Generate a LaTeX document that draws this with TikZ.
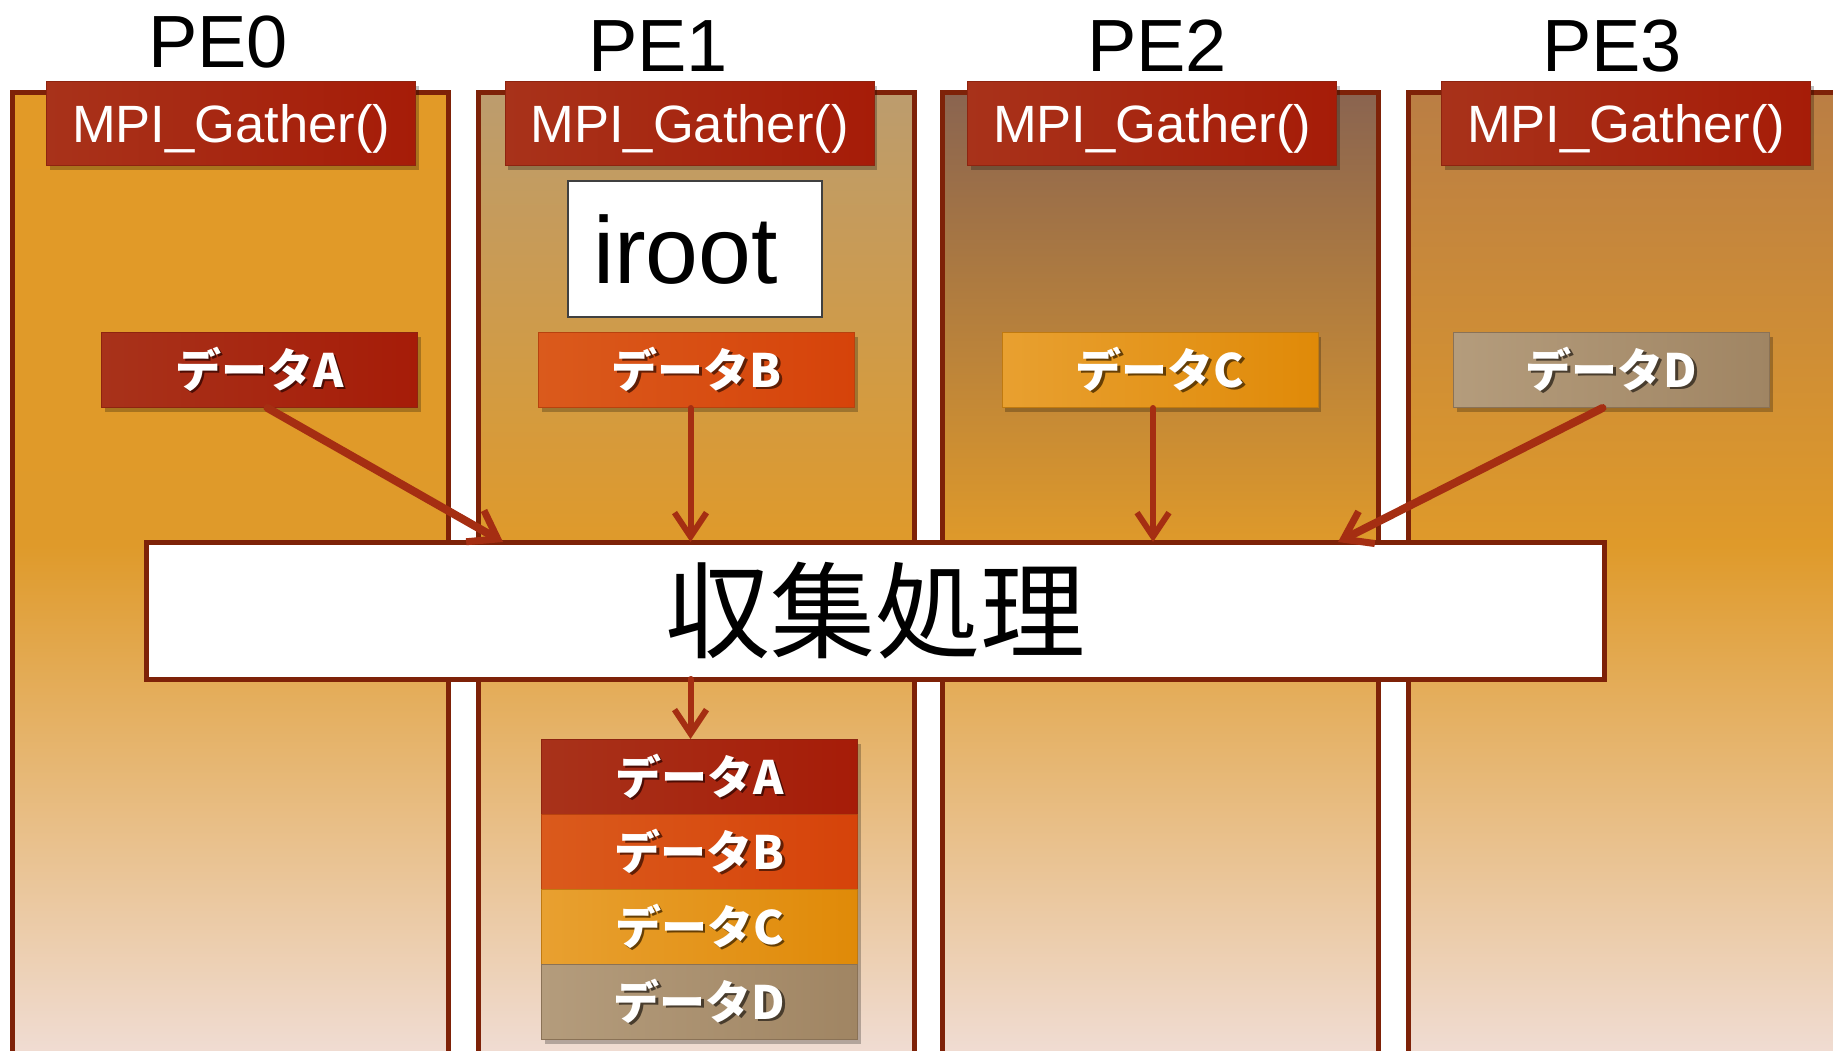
\documentclass[tikz,border=0pt]{standalone}
\usepackage{fontspec}
\setmainfont{Liberation Sans}
\newfontfamily\jp{Noto Sans CJK JP}
\usetikzlibrary{arrows.meta,shadows,calc}
\definecolor{bord}{HTML}{7E2208}
\definecolor{arrc}{HTML}{A52E12}
\definecolor{midor}{HTML}{DF9A2A}
\definecolor{botpk}{HTML}{F0DDD5}
\definecolor{tzero}{HTML}{E29A27}
\definecolor{tone}{HTML}{BC9C6E}
\definecolor{ttwo}{HTML}{8A6450}
\definecolor{tthree}{HTML}{BA7E44}
\definecolor{redL}{HTML}{A8321A}
\definecolor{redM}{HTML}{B92610}
\definecolor{redR}{HTML}{A61C08}
\definecolor{redB}{HTML}{8E2410}
\definecolor{orL}{HTML}{DA5A1C}
\definecolor{orM}{HTML}{EA520F}
\definecolor{orR}{HTML}{D6430A}
\definecolor{orB}{HTML}{B8420E}
\definecolor{amL}{HTML}{E8A030}
\definecolor{amM}{HTML}{F4A010}
\definecolor{amR}{HTML}{E08A08}
\definecolor{amB}{HTML}{C07A10}
\definecolor{tnL}{HTML}{B49C7C}
\definecolor{tnM}{HTML}{B09570}
\definecolor{tnR}{HTML}{A08563}
\definecolor{tnB}{HTML}{8A7256}
\definecolor{irb}{HTML}{404040}
\newcommand\shtxt[2]{\makebox[0pt][l]{\hspace{2.5pt}\raisebox{-2.5pt}{\textcolor{#1}{#2}}}#2}
\tikzset{
  pelabel/.style={font=\fontsize{74}{80}\selectfont, text=black, inner sep=0pt},
  shad/.style={drop shadow={shadow xshift=3pt, shadow yshift=-4pt, opacity=0.25, fill=black}},
  mpibox/.style={shad, minimum width=369pt, minimum height=84pt, inner sep=0pt, text=white,
    font=\fontsize{52.5}{60}\selectfont, text height=37.6pt, text depth=0pt,
    left color=redL, middle color=redM, right color=redR, draw=redB, line width=1pt},
  databox/.style={shad, minimum width=316pt, minimum height=75pt, inner sep=0pt, text=white,
    font=\jp\bfseries\fontsize{46}{50}\selectfont, text height=34pt, text depth=0pt, line width=1pt},
  dataA/.style={databox, left color=redL, middle color=redM, right color=redR, draw=redB},
  dataB/.style={databox, left color=orL, middle color=orM, right color=orR, draw=orB},
  dataC/.style={databox, left color=amL, middle color=amM, right color=amR, draw=amB},
  dataD/.style={databox, left color=tnL, middle color=tnM, right color=tnR, draw=tnB},
  arrd/.style={draw=arrc, line width=8pt, line cap=round,
    -{Straight Barb[length=26pt,width=36pt,line width=7pt]}},
  arrv/.style={draw=arrc, line width=6pt, line cap=round,
    -{Straight Barb[length=24pt,width=32pt,line width=6pt]}},
}
\begin{document}
\begin{tikzpicture}[x=1pt,y=-1pt]
\useasboundingbox (0,0) rectangle (1833,1051);
\clip (0,0) rectangle (1833,1051);
\fill[white] (0,0) rectangle (1833,1051);
% panels
\foreach \x/\c in {12/tzero,478/tone,942/ttwo,1408/tthree} {
  \fill[top color=\c, bottom color=midor] (\x,93) rectangle ({\x+436},546);
  \fill[top color=midor, bottom color=botpk] (\x,545) rectangle ({\x+436},1060);
  \draw[bord, line width=5pt] (\x,1070) -- (\x,93) -- ({\x+436},93) -- ({\x+436},1070);
}
% PE labels
\node[pelabel, anchor=base] (pe0) at (218,68) {PE0};
\node[pelabel, anchor=base] (pe1) at (658,72) {PE1};
\node[pelabel, anchor=base] (pe2) at (1157,72) {PE2};
\node[pelabel, anchor=base] (pe3) at (1612,72) {PE3};
% MPI boxes
\node[mpibox] (m0) at (231,124) {MPI\_Gather()};
\node[mpibox] (m1) at (689.5,124) {MPI\_Gather()};
\node[mpibox] (m2) at (1152,124) {MPI\_Gather()};
\node[mpibox] (m3) at (1626,124) {MPI\_Gather()};
% iroot
\node[draw=irb, line width=1.5pt, fill=white, minimum height=136pt, text width=204pt,
  inner xsep=25pt, inner ysep=0pt, align=left, font=\fontsize{95}{100}\selectfont,
  text height=68pt, text depth=0pt] (iroot) at (695,249) {iroot};
% data row
\node[dataA] (dA) at (259.5,370) {\shtxt{black!55!redR}{データA}};
\node[dataB] (dB) at (696.5,370) {\shtxt{black!55!orR}{データB}};
\node[dataC] (dC) at (1160,370) {\shtxt{black!55!amR}{データC}};
\node[dataD] (dD) at (1611.5,370) {\shtxt{black!55!tnR}{データD}};
% big box
\node[draw=bord, line width=5pt, fill=white, minimum width=1458pt, minimum height=137pt,
  inner sep=0pt, outer sep=0pt, font=\jp\fontsize{105}{110}\selectfont] (big) at (875,610.5) {収集処理};
% stacked result
\node[dataA] (sA) at (699.5,777) {\shtxt{black!55!redR}{データA}};
\node[dataB] (sB) at (699.5,852) {\shtxt{black!55!orR}{データB}};
\node[dataC] (sC) at (699.5,927) {\shtxt{black!55!amR}{データC}};
\node[dataD] (sD) at (699.5,1002) {\shtxt{black!55!tnR}{データD}};
% arrows
\coordinate (aA) at ($(dA.south)+(8,0)$);
\coordinate (aB) at ($(dB.south)+(-6,0)$);
\coordinate (aC) at ($(dC.south)+(-7,0)$);
\coordinate (aD) at ($(dD.south)+(-9,0)$);
\coordinate (aS) at ($(sA.north)+(-9,0)$);
\draw[arrd] (aA) -- ($(big.north west)+(357,0)$);
\draw[arrv] (aB) -- (aB |- big.north);
\draw[arrv] (aC) -- (aC |- big.north);
\draw[arrd] (aD) -- ($(big.north east)+(-266,0)$);
\draw[arrv] (aS |- big.south) -- (aS);
\end{tikzpicture}
\end{document}
